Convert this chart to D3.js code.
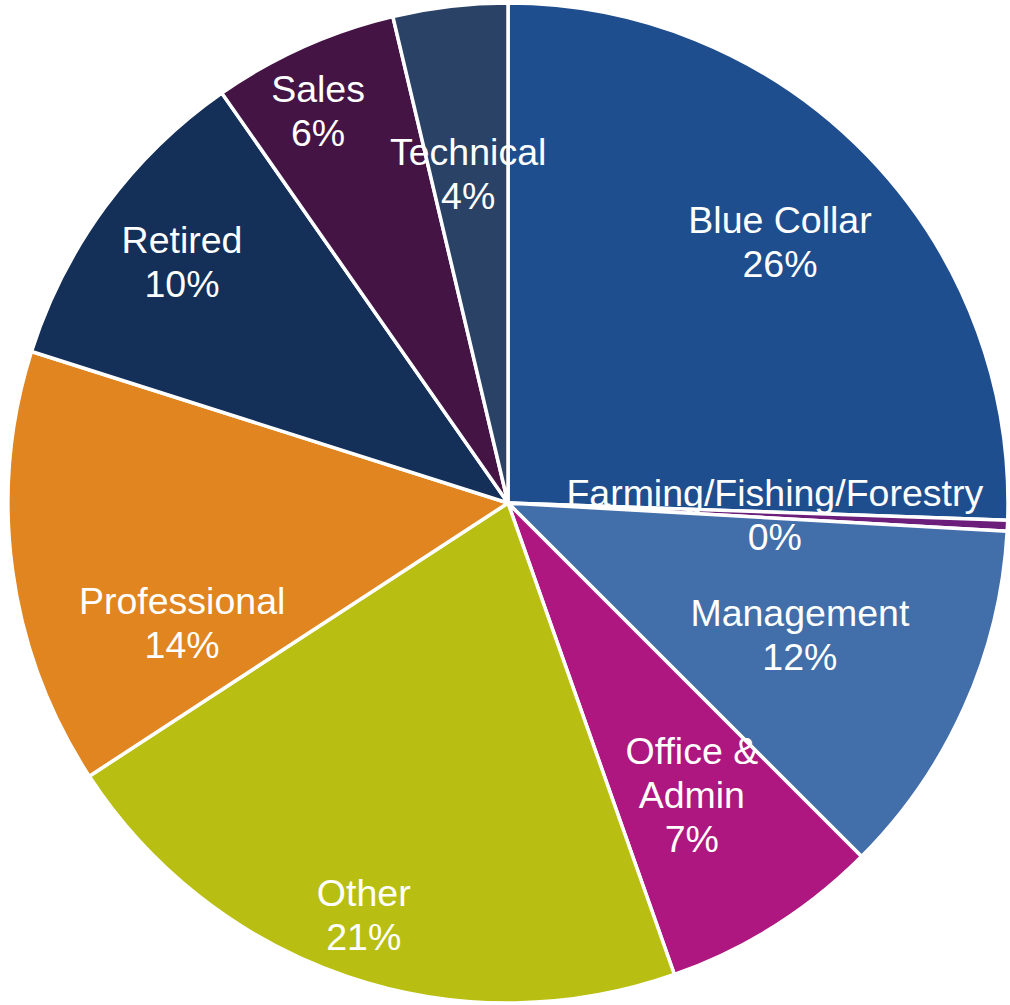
<!DOCTYPE html>
<html>
<head>
<meta charset="utf-8">
<script src="https://cdn.jsdelivr.net/npm/d3@7"></script>
<style>
  html, body { margin: 0; padding: 0; background: #ffffff; }
  svg { display: block; }
</style>
</head>
<body>
<svg id="chart" width="1010" height="1005"></svg>
<script>
// Occupation categories, clockwise from twelve o'clock
const categories = [
  "Blue Collar",
  "Farming/Fishing/Forestry",
  "Management",
  "Office & Admin",
  "Other",
  "Professional",
  "Retired",
  "Sales",
  "Technical"
];

// Share of respondents (percent)
const shares = [25.55, 0.35, 11.6, 7.1, 21.2, 14.1, 10.4, 6.0, 3.7];

// Slice fills
const sliceColors = [
  "#1f4e8f", "#6b1f7a", "#426eaa", "#ae1680", "#b8bf12",
  "#e0851f", "#142f58", "#441445", "#2a4266"
];

// How each category name breaks over lines in its label
const labelLines = [
  ["Blue Collar"],
  ["Farming/Fishing/Forestry"],
  ["Management"],
  ["Office &", "Admin"],
  ["Other"],
  ["Professional"],
  ["Retired"],
  ["Sales"],
  ["Technical"]
];

// Label anchor for each slice: compass angle (degrees) and fraction of the radius
const labelAngles = [46.1, 92.4, 114.2, 147.8, 199.3, 249.9, 306.5, 334.2, 353.1];
const labelRadii  = [0.755, 0.534, 0.64, 0.69, 0.873, 0.694, 0.811, 0.873, 0.663];

const svg = d3.select("#chart");
const cx = 508, cy = 503, radius = 500;
const fontSize = 37.5, lineHeight = 44;

const data = categories.map((name, i) => ({
  name, value: shares[i], color: sliceColors[i],
  lines: labelLines[i], angle: labelAngles[i], rfrac: labelRadii[i]
}));
const total = d3.sum(data, d => d.value);

const pie = d3.pie().sort(null).value(d => d.value);
const arc = d3.arc().innerRadius(0).outerRadius(radius);

const g = svg.append("g").attr("transform", `translate(${cx},${cy})`);

g.selectAll("path.slice")
  .data(pie(data))
  .join("path")
  .attr("class", "slice")
  .attr("d", arc)
  .attr("fill", d => d.data.color)
  .attr("stroke", "#ffffff")
  .attr("stroke-width", 3.5)
  .attr("stroke-linejoin", "round");

g.selectAll("text.label")
  .data(data)
  .join("text")
  .attr("class", "label")
  .attr("text-anchor", "middle")
  .attr("fill", "#ffffff")
  .style("font-family", "'Liberation Sans', Arial, Helvetica, sans-serif")
  .style("font-size", fontSize + "px")
  .each(function (d) {
    const a = d.angle * Math.PI / 180;
    const x = Math.sin(a) * radius * d.rfrac;
    const y = -Math.cos(a) * radius * d.rfrac;
    const lines = d.lines.concat([Math.round(d.value / total * 100) + "%"]);
    const n = lines.length;
    const sel = d3.select(this);
    lines.forEach((t, i) => {
      sel.append("tspan")
        .attr("x", x)
        .attr("y", y + (i - (n - 1) / 2) * lineHeight + fontSize * 0.36)
        .text(t);
    });
  });
</script>
</body>
</html>
